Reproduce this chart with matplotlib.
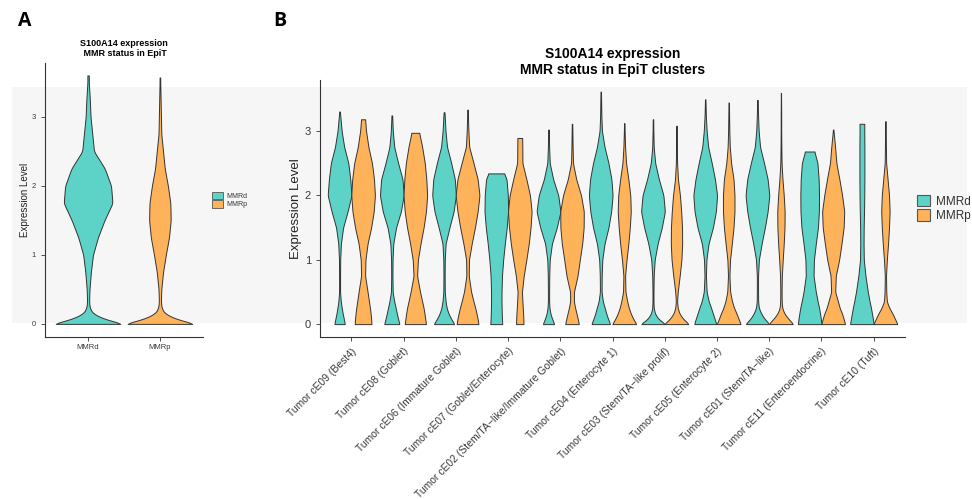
import matplotlib
matplotlib.use("Agg")
import matplotlib.pyplot as plt
import numpy as np
from matplotlib.patches import Patch, Rectangle

plt.rcParams['font.family'] = ['Liberation Sans', 'DejaVu Sans']

# expression levels at which violin widths were read (density, % of widest point)
LEVELS = [0, 0.08, 0.16, 0.25, 0.35, 0.5, 0.75, 1.0, 1.25, 1.5, 1.75, 2.0,
          2.25, 2.5, 2.75, 3.0, 3.25, 3.5]

groups = ["MMRd", "MMRp"]
col_d = "#5dd3c7"
col_p = "#feb35b"

# panel A: all EpiT cells
a_top = [3.60, 3.57]
a_top_w = [2, 1]
a_dens = [
    [100, 42, 12, 4, 3, 4, 8, 14, 28, 47, 70, 66, 48, 17, 12, 7, 5, 2],
    [100, 42, 12, 4, 3, 4, 9, 17, 26, 31, 30, 23, 14, 9, 4, 3, 2, 1],
]

# panel B: per cluster
clusters = ["Tumor cE09 (Best4)", "Tumor cE08 (Goblet)", "Tumor cE06 (Immature Goblet)",
            "Tumor cE07 (Goblet/Enterocyte)", "Tumor cE02 (Stem/TA\u2212like/Immature Goblet)",
            "Tumor cE04 (Enterocyte 1)", "Tumor cE03 (Stem/TA\u2212like prolif)",
            "Tumor cE05 (Enterocyte 2)", "Tumor cE01 (Stem/TA\u2212like)",
            "Tumor cE11 (Enteroendocrine)", "Tumor cE10 (Tuft)"]

mmrd_top = [3.30, 3.24, 3.29, 2.34, 3.02, 3.61, 3.18, 3.49, 3.48, 2.68, 3.11]
mmrd_top_w = [3, 3, 3, 66, 2, 2, 2, 2, 2, 40, 20]
mmrd_dens = [
    [43, 35, 26, 18, 10, 4, 4, 5, 11, 29, 66, 98, 88, 72, 38, 17, 5],
    [63, 52, 42, 32, 20, 7, 5, 6, 12, 35, 75, 98, 88, 52, 20, 8],
    [86, 60, 38, 22, 13, 6, 5, 6, 13, 45, 80, 99, 90, 60, 25, 12, 5],
    [50, 48, 46, 45, 44, 44, 48, 58, 72, 88, 99, 97, 86],
    [47, 30, 16, 8, 5, 5, 6, 10, 28, 68, 98, 80, 38, 10, 5, 3],
    [79, 62, 47, 34, 18, 7, 8, 13, 32, 65, 88, 100, 90, 65, 32, 10, 5, 3],
    [100, 45, 17, 6, 4, 4, 6, 14, 38, 72, 97, 85, 48, 18, 6, 3],
    [93, 80, 65, 50, 30, 12, 6, 10, 28, 65, 90, 100, 82, 55, 25, 12, 5],
    [100, 60, 32, 12, 6, 5, 5, 12, 35, 62, 85, 99, 85, 55, 22, 10, 5],
    [100, 95, 88, 80, 68, 52, 33, 36, 52, 70, 78, 79, 76, 66],
    [100, 93, 85, 77, 65, 50, 30, 16, 14, 15, 18, 20, 21, 21, 21, 20],
]

mmrp_top = [3.18, 2.97, 3.33, 2.89, 3.11, 3.12, 3.08, 3.44, 3.59, 3.02, 3.15]
mmrp_top_w = [17, 33, 2, 20, 2, 2, 2, 2, 1, 2, 2]
mmrp_dens = [
    [71, 68, 64, 58, 50, 38, 17, 20, 38, 68, 90, 100, 92, 75, 45, 25],
    [90, 84, 78, 70, 58, 40, 15, 22, 44, 70, 90, 100, 93, 80, 58],
    [92, 85, 76, 65, 50, 30, 10, 12, 35, 62, 85, 100, 85, 50, 14, 7, 3],
    [31, 30, 28, 25, 22, 18, 33, 55, 75, 90, 99, 85, 55, 22, 21],
    [57, 48, 38, 26, 16, 16, 46, 65, 85, 97, 98, 75, 35, 8, 5, 3],
    [100, 75, 55, 38, 25, 10, 7, 19, 34, 46, 54, 50, 34, 15, 7, 3],
    [100, 55, 25, 10, 5, 10, 26, 40, 46, 45, 38, 28, 12, 5, 3, 2],
    [100, 82, 66, 45, 28, 12, 6, 11, 26, 40, 48, 48, 40, 20, 9, 5, 3],
    [97, 60, 28, 10, 6, 5, 7, 14, 22, 28, 29, 22, 12, 5, 3, 2, 2, 1],
    [100, 88, 75, 55, 40, 17, 22, 50, 70, 88, 93, 75, 52, 27, 16, 3],
    [100, 80, 60, 33, 12, 7, 5, 12, 22, 30, 35, 30, 18, 6, 4, 3],
]


def vstats(top, top_w, dens):
    # density profile from the read widths, lightly smoothed, trimmed at max
    ky = LEVELS[:len(dens)] + [top]
    kw = list(dens) + [top_w]
    y = np.linspace(0, top, 220)
    w = np.interp(y, ky, kw)
    w = np.convolve(np.pad(w, 2, mode='edge'), np.ones(5) / 5, mode='valid')
    return dict(coords=y, vals=w, mean=np.average(y, weights=w), median=np.median(y),
                min=0.0, max=top)


def style(parts, colors):
    for body, c in zip(parts['bodies'], colors):
        body.set_facecolor(c)
        body.set_edgecolor('#333333')
        body.set_linewidth(0.7)
        body.set_alpha(1)


def axis_style(ax, fs):
    for s in ['top', 'right']:
        ax.spines[s].set_visible(False)
    for s in ['left', 'bottom']:
        ax.spines[s].set_color('#333333')
        ax.spines[s].set_linewidth(0.8)
    ax.tick_params(colors='#333333', labelcolor='#3a3a3a', labelsize=fs, length=3, width=0.6)
    ax.set_facecolor('none')


fig = plt.figure(figsize=(9.72, 4.99), dpi=100)
fig.patch.set_facecolor('white')
fig.add_artist(Rectangle((12 / 972, 1 - 323 / 499), 955 / 972, 236 / 499,
                         transform=fig.transFigure, facecolor='#f6f6f6',
                         edgecolor='none', zorder=-5))

# ---- panel A
axA = fig.add_axes([45 / 972, 1 - 337 / 499, 158 / 972, 274 / 499])
stA = [vstats(a_top[i], a_top_w[i], a_dens[i]) for i in range(2)]
pa = axA.violin(stA, positions=[1, 2], widths=0.9, showextrema=False)
style(pa, [col_d, col_p])
axA.set_xlim(0.4, 2.6)
axA.set_ylim(-0.19, 3.78)
axA.set_xticks([1, 2])
axA.set_xticklabels(groups)
axA.set_yticks([0, 1, 2, 3])
axis_style(axA, 5.5)
axA.tick_params(axis='x', pad=2)
axA.set_ylabel("Expression Level", fontsize=7, color='#222222', labelpad=1)
axA.set_title("S100A14 expression\n MMR status in EpiT", fontsize=6.5,
              fontweight='bold', pad=5)
hA = [Patch(facecolor=col_d, edgecolor='#555555', linewidth=0.6),
      Patch(facecolor=col_p, edgecolor='#555555', linewidth=0.6)]
axA.legend(hA, groups, loc='center left', bbox_to_anchor=(1.057, 0.5), frameon=False,
           fontsize=5, handlelength=1.6, handleheight=1.3, handletextpad=0.5,
           labelspacing=0.1, borderaxespad=0, borderpad=0, labelcolor='#333333')

# ---- panel B
axB = fig.add_axes([320 / 972, 1 - 337 / 499, 585 / 972, 257 / 499])
pos = np.arange(1, len(clusters) + 1)
stD = [vstats(mmrd_top[i], mmrd_top_w[i], mmrd_dens[i]) for i in range(len(clusters))]
stP = [vstats(mmrp_top[i], mmrp_top_w[i], mmrp_dens[i]) for i in range(len(clusters))]
pd_ = axB.violin(stD, positions=pos - 0.225, widths=0.45, showextrema=False)
pp_ = axB.violin(stP, positions=pos + 0.225, widths=0.45, showextrema=False)
style(pd_, [col_d] * len(clusters))
style(pp_, [col_p] * len(clusters))
axB.set_xlim(0.4, len(clusters) + 0.6)
axB.set_ylim(-0.2, 3.79)
axB.set_xticks(pos)
axB.set_xticklabels(clusters, rotation=45, ha='right', rotation_mode='anchor')
axB.set_yticks([0, 1, 2, 3])
axis_style(axB, 8)
axB.tick_params(axis='x', labelsize=7.5)
axB.set_ylabel("Expression Level", fontsize=9.5, color='#222222', labelpad=2)
axB.set_title("S100A14 expression\nMMR status in EpiT clusters", fontsize=10,
              fontweight='bold', pad=4)
hB = [Patch(facecolor=col_d, edgecolor='#555555', linewidth=0.8),
      Patch(facecolor=col_p, edgecolor='#555555', linewidth=0.8)]
axB.legend(hB, groups, loc='center left', bbox_to_anchor=(1.02, 0.5), frameon=False,
           fontsize=8.5, handlelength=1.1, handleheight=1.1, handletextpad=0.5,
           labelspacing=0.15, borderaxespad=0, borderpad=0, labelcolor='#333333')

# panel letters
fig.text(18 / 972, 1 - 21 / 499, "A", fontsize=14, fontweight='bold',
         family=['Open Sans', 'DejaVu Sans'], va='center')
fig.text(273 / 972, 1 - 21 / 499, "B", fontsize=14, fontweight='bold',
         family=['Open Sans', 'DejaVu Sans'], va='center')

fig.savefig("out.png", dpi=100)
